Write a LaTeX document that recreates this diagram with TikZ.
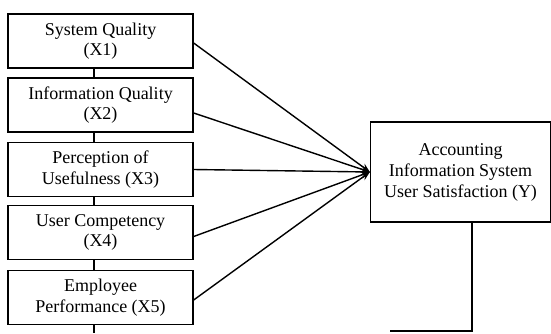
\documentclass[tikz,border=0pt]{standalone}
\usepackage{fontspec}
\setmainfont{Liberation Serif}
\usetikzlibrary{arrows.meta,calc}
\begin{document}
\begin{tikzpicture}[x=1pt,y=-1pt,
  lbox/.style={draw,line width=1.3pt,minimum width=185pt,minimum height=54pt,align=center,inner sep=0pt,
    font=\fontsize{18}{20.5}\selectfont},
  rbox/.style={draw,line width=1.3pt,minimum width=180pt,minimum height=100pt,align=center,inner sep=0pt,
    font=\fontsize{18}{21}\selectfont},
  conn/.style={line width=1.3pt},
  arr/.style={line width=1.4pt,-{Stealth[length=9pt,width=7pt]}}]
\useasboundingbox (0,0) rectangle (551,333);
\node[lbox] (b1) at (100.5,41) {System Quality\\(X1)};
\node[lbox] (b2) at (100.5,105) {Information Quality\\(X2)};
\node[lbox] (b3) at (100.5,169.5) {Perception of\\Usefulness (X3)};
\node[lbox] (b4) at (100.5,232.5) {User Competency\\(X4)};
\node[lbox] (b5) at (100.5,297.5) {Employee\\Performance (X5)};
\node[rbox] (y) at (460.5,172) {Accounting\\Information System\\User Satisfaction (Y)};
\coordinate (sp) at (94,0);
\coordinate (bot) at (94,333);
\coordinate (fb) at (472,331);
\coordinate (fbend) at (390,331);
\draw[conn] (b1.south -| sp) -- (b2.north -| sp);
\draw[conn] (b2.south -| sp) -- (b3.north -| sp);
\draw[conn] (b3.south -| sp) -- (b4.north -| sp);
\draw[conn] (b4.south -| sp) -- (b5.north -| sp);
\draw[conn] (b5.south -| sp) -- (bot);
\draw[conn] (y.south -| fb) -- (fb) -- (fbend);
\draw[arr] ([yshift=-2pt]b1.east) -- (y.west);
\draw[arr] ([yshift=-8pt]b2.east) -- (y.west);
\draw[arr] (b3.east) -- (y.west);
\draw[arr] ([yshift=-4pt]b4.east) -- (y.west);
\draw[arr] ([yshift=-2.5pt]b5.east) -- (y.west);
\end{tikzpicture}
\end{document}
